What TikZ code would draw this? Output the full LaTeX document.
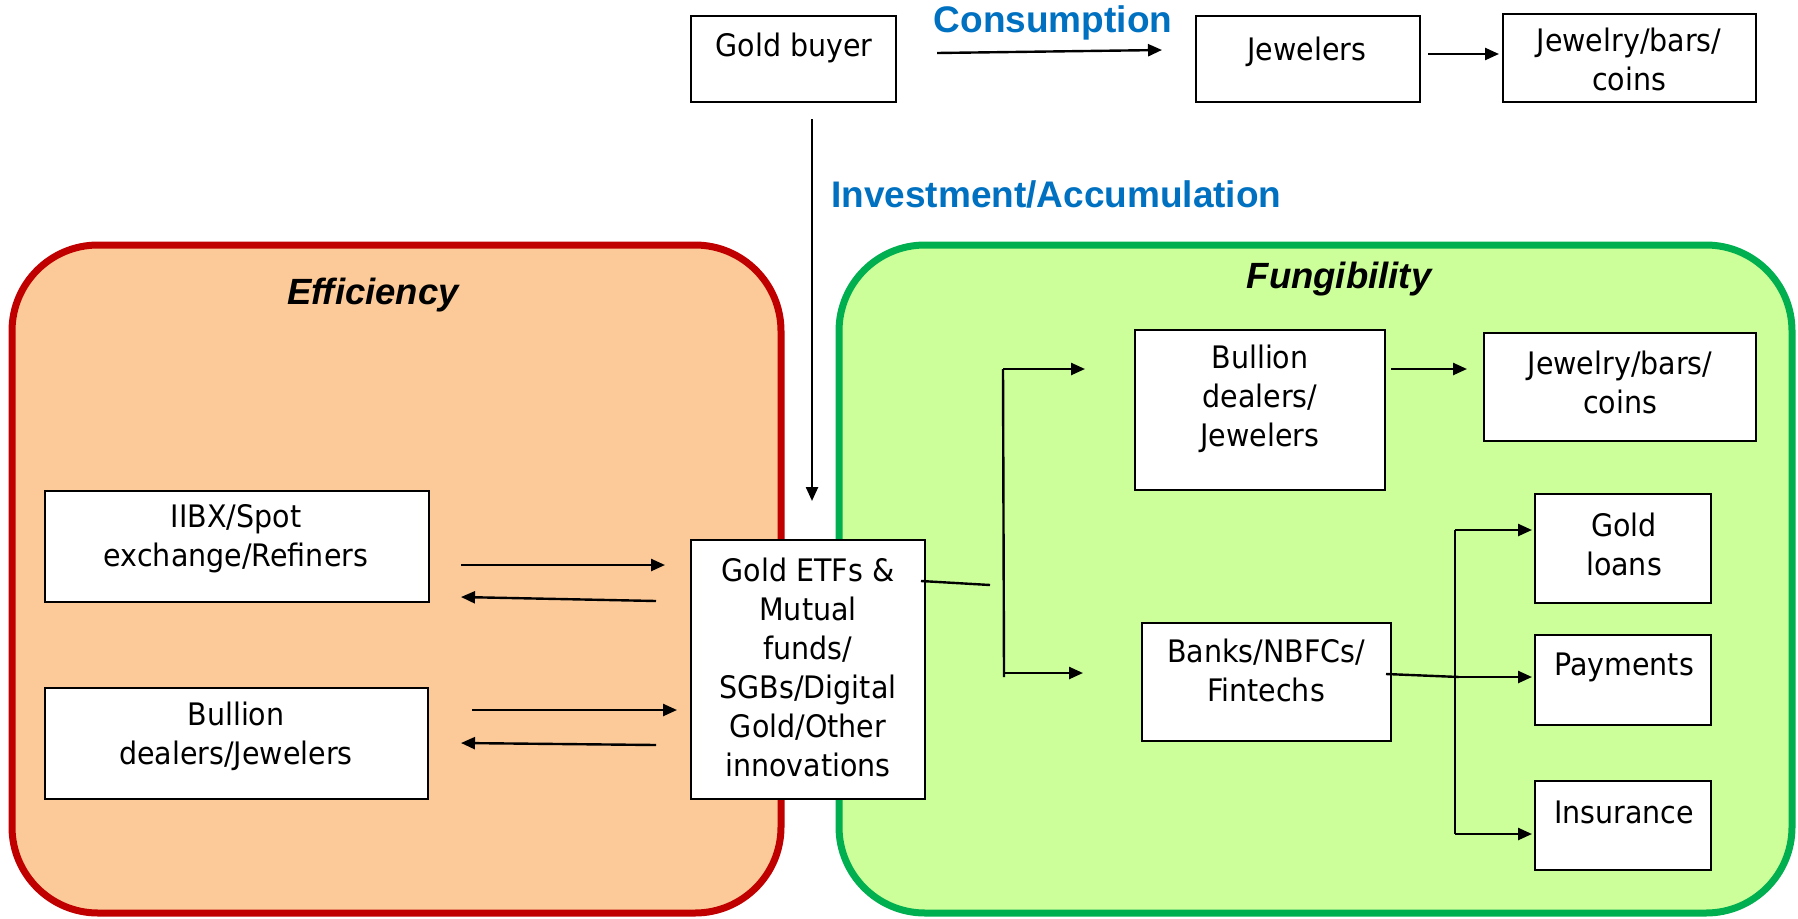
\documentclass[tikz,border=0pt]{standalone}
\usepackage{fontspec}
\setmainfont{DejaVu Sans}[FakeStretch=0.92]
\newfontfamily\headfont{Liberation Sans}
\usetikzlibrary{arrows.meta}
\definecolor{redb}{HTML}{C00000}
\definecolor{orangef}{HTML}{FBCA98}
\definecolor{greenb}{HTML}{00B050}
\definecolor{greenf}{HTML}{CCFF99}
\definecolor{blue1}{HTML}{0070C0}
\tikzset{
  panel/.style={line width=7pt, rounded corners=86pt},
  box/.style={draw=black, line width=2pt, fill=white, inner sep=0pt},
  txt/.style={font=\fontsize{31}{39}\selectfont, align=center, inner sep=0pt},
  head/.style={font=\headfont\bfseries\fontsize{37}{40}\selectfont, text=blue1, inner sep=0pt},
  ptitle/.style={font=\headfont\bfseries\itshape\fontsize{36.5}{40}\selectfont, inner sep=0pt},
  arr/.style={line width=2.4pt, -{Triangle[length=14pt,width=12pt]}},
  ln/.style={line width=2.4pt}
}
\begin{document}
\begin{tikzpicture}[x=1pt,y=-1pt]
\useasboundingbox (0,0) rectangle (1798,918);
% panels
\draw[panel, draw=redb, fill=orangef] (12,245) rectangle (781,913);
\draw[panel, draw=greenb, fill=greenf] (839,245) rectangle (1792,913);
\node[ptitle] (eff) at (373,295) {Efficiency};
\node[ptitle] (fung) at (1339,279) {Fungibility};
% top row
\node[box, minimum width=205pt, minimum height=86pt] (gb) at (793.5,59) {};
\node[txt] (gbt) at (794,48) {Gold buyer};
\node[box, minimum width=224pt, minimum height=86pt] (jw) at (1308,59) {};
\node[txt] (jwt) at (1307,52) {Jewelers};
\node[box, minimum width=253pt, minimum height=88pt] (jbc) at (1629.5,58) {};
\node[txt] (jbct) at (1629,59) {Jewelry/bars/\\coins};
\node[head] (cons) at (1053,23) {Consumption};
\node[head, anchor=west] (inv) at (831,194) {Investment/Accumulation};
% left boxes
\node[box, minimum width=384pt, minimum height=111pt] (iibx) at (237,546.5) {};
\node[txt] (iibxt) at (236,539) {IIBX/Spot\\exchange/Refiners};
\node[box, minimum width=383pt, minimum height=111pt] (bdl) at (236.5,743.5) {};
\node[txt] (bdlt) at (236,736) {Bullion\\dealers/Jewelers};
% center box
\node[box, minimum width=234pt, minimum height=259pt] (etf) at (808,669.5) {};
\node[txt] (etft) at (808,667) {Gold ETFs \&\\Mutual\\funds/\\SGBs/Digital\\Gold/Other\\innovations};
% right boxes
\node[box, minimum width=250pt, minimum height=160pt] (bdr) at (1260,410) {};
\node[txt] (bdrt) at (1260,399) {Bullion\\dealers/\\Jewelers};
\node[box, minimum width=272pt, minimum height=108pt] (jbr) at (1620,387) {};
\node[txt] (jbrt) at (1620,382) {Jewelry/bars/\\coins};
\node[box, minimum width=249pt, minimum height=118pt] (bank) at (1266.5,682) {};
\node[txt] (bankt) at (1266,670) {Banks/NBFCs/\\Fintechs};
\node[box, minimum width=176pt, minimum height=109pt] (gl) at (1623,548.5) {};
\node[txt] (glt) at (1624,544) {Gold\\loans};
\node[box, minimum width=176pt, minimum height=90pt] (pay) at (1623,680) {};
\node[txt] (payt) at (1624,667) {Payments};
\node[box, minimum width=176pt, minimum height=89pt] (ins) at (1623,825.5) {};
\node[txt] (inst) at (1624,812) {Insurance};
% connector coordinates
\coordinate (a1s) at (937,53); \coordinate (a1e) at (1162,50);
\coordinate (a2s) at (1428,54); \coordinate (a2e) at (1499,54);
\coordinate (vs) at (812,119); \coordinate (ve) at (812,501);
\coordinate (l1s) at (461,565); \coordinate (l1e) at (665,565);
\coordinate (l2s) at (656,601); \coordinate (l2e) at (461,597);
\coordinate (l3s) at (472,710); \coordinate (l3e) at (677,710);
\coordinate (l4s) at (656,745); \coordinate (l4e) at (461,743);
\coordinate (es) at (921,581); \coordinate (ee) at (990,585);
\coordinate (vt) at (1003,369); \coordinate (vb) at (1004,677);
\coordinate (at) at (1085,369); \coordinate (ab) at (1083,673);
\coordinate (r1s) at (1391,369); \coordinate (r1e) at (1467,369);
\coordinate (bs) at (1386,674); \coordinate (bm) at (1459,677);
\coordinate (gt) at (1455,530); \coordinate (gb2) at (1455,834);
\coordinate (gle) at (1532,530); \coordinate (pae) at (1532,677); \coordinate (ine) at (1532,834);
% connectors
\draw[arr] (a1s) -- (a1e);
\draw[arr] (a2s) -- (a2e);
\draw[arr] (vs) -- (ve);
\draw[arr] (l1s) -- (l1e);
\draw[arr] (l2s) -- (l2e);
\draw[arr] (l3s) -- (l3e);
\draw[arr] (l4s) -- (l4e);
\draw[ln] (es) -- (ee);
\draw[ln] (vt) -- (vb);
\draw[arr] (vt) -- (at);
\draw[arr] ([xshift=-1pt]vb |- ab) -- (ab);
\draw[arr] (r1s) -- (r1e);
\draw[ln] (bs) -- (bm);
\draw[ln] (gt) -- (gb2);
\draw[arr] (gt) -- (gle);
\draw[arr] (bm) -- (pae);
\draw[arr] (gb2) -- (ine);
\end{tikzpicture}
\end{document}
